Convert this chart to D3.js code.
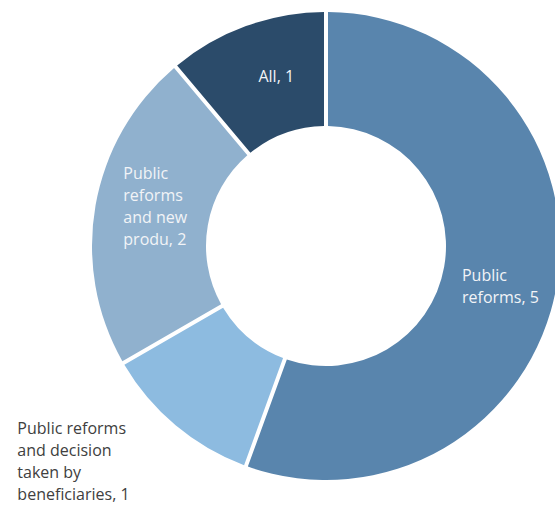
<!DOCTYPE html>
<html>
<head>
<meta charset="utf-8">
<script src="https://cdn.jsdelivr.net/npm/d3@7"></script>
<style>
  body { margin: 0; background: #fff; }
  svg { display: block; font-family: "Open Sans", sans-serif; }
</style>
</head>
<body>
<svg id="chart" width="555" height="505"></svg>
<script>
// slices, clockwise from 12 o'clock
let categories = ['Public reforms', 'Public reforms and decision taken by beneficiaries', 'Public reforms and new produ', 'All'];
let values = [5, 1, 2, 1];
let labelLines = [
  ['Public', 'reforms, 5'],
  ['Public reforms', 'and decision', 'taken by', 'beneficiaries, 1'],
  ['Public', 'reforms', 'and new', 'produ, 2'],
  ['All, 1']
];
let colors = ['#5985ad', '#8dbbe0', '#90b1ce', '#2b4b6a'];

let cx = 326, cy = 246;
let outerR = 234, innerR = 120;
let fontSize = 16, lineH = 22, capH = 11.5;

let svg = d3.select('#chart');
let g = svg.append('g').attr('transform', `translate(${cx}, ${cy})`);

let data = categories.map((c, i) => ({name: c, value: values[i], lines: labelLines[i], color: colors[i]}));

let pie = d3.pie().value(d => d.value).sort(null);
let arc = d3.arc()
  .innerRadius(innerR)
  .outerRadius(outerR)
  .padAngle(4 / outerR)
  .padRadius(outerR);

let arcs = pie(data);

g.selectAll('path')
  .data(arcs)
  .enter()
  .append('path')
    .attr('d', arc)
    .attr('fill', d => d.data.color);

// labels: inside slices, except the small light one which sits outside
let labels = g.selectAll('text.lbl')
  .data(arcs)
  .enter()
  .append('text')
    .attr('class', 'lbl')
    .attr('font-size', fontSize)
    .attr('fill', (d, i) => i == 1 ? '#404040' : '#f2f4f7');

labels.each(function(d, i) {
  let t = d3.select(this);
  t.selectAll('tspan')
    .data(d.data.lines)
    .enter()
    .append('tspan')
      .attr('x', 0)
      .attr('dy', (l, j) => j == 0 ? 0 : lineH)
      .text(l => l);
  let w = this.getBBox().width;
  let n = d.data.lines.length;
  let a = (d.startAngle + d.endAngle) / 2;
  let x, y;
  if (i == 1) {
    let px = outerR * Math.sin(a), py = -outerR * Math.cos(a);
    x = px - 46 - w;
    y = py + 9;
  } else {
    // label sits a little clockwise of the slice middle
    let la = a + 3 * Math.PI / 180, lr = 177;
    let mx = lr * Math.sin(la), my = -lr * Math.cos(la);
    x = mx - w / 2 + 2;
    y = my - (n - 1) * lineH / 2 + capH / 2;
  }
  t.attr('transform', `translate(${x}, ${y})`);
});
</script>
</body>
</html>
